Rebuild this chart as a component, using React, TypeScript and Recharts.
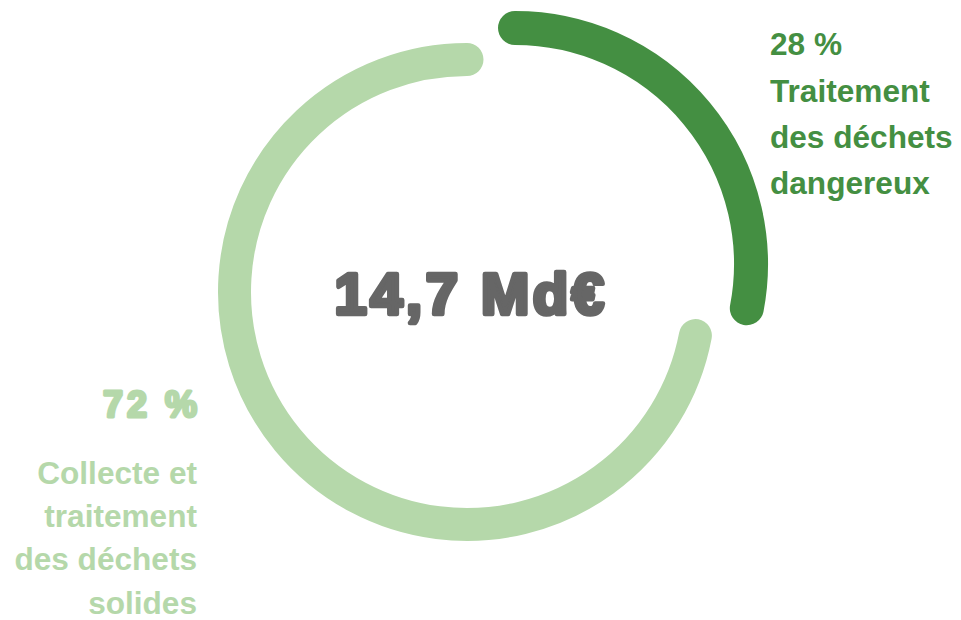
import { PieChart, Pie, Cell } from "recharts";

const categories = [
  "Traitement des déchets dangereux",
  "Collecte et traitement des déchets solides",
];
const shares = [28, 72];
const labelLines = [
  ["Traitement", "des déchets", "dangereux"],
  ["Collecte et", "traitement", "des déchets", "solides"],
];
const totalLabel = "14,7 Md€";

const DARK = "#448f42";
const LIGHT = "#b5d8aa";
const GREY = "#666666";

const data = categories.map((name, i) => ({ name, value: shares[i] }));

// draws the sector as a stroked arc with round caps
const ArcShape = (props: any) => {
  const { cx, cy, innerRadius, outerRadius, startAngle, endAngle, fill } = props;
  if (!fill || fill === "none") return <g />;
  const r = (innerRadius + outerRadius) / 2;
  const rad = Math.PI / 180;
  const x1 = cx + r * Math.cos(-startAngle * rad);
  const y1 = cy + r * Math.sin(-startAngle * rad);
  const x2 = cx + r * Math.cos(-endAngle * rad);
  const y2 = cy + r * Math.sin(-endAngle * rad);
  const large = Math.abs(endAngle - startAngle) > 180 ? 1 : 0;
  const sweep = startAngle > endAngle ? 1 : 0;
  return (
    <path
      d={`M${x1},${y1} A${r},${r} 0 ${large} ${sweep} ${x2},${y2}`}
      stroke={fill}
      strokeWidth={outerRadius - innerRadius}
      strokeLinecap="round"
      fill="none"
    />
  );
};

const font = "'Liberation Sans', Arial, sans-serif";

export default function App() {
  return (
    <div style={{ position: "absolute", left: 0, top: 0, width: 961, height: 620, background: "#fff" }}>
      <PieChart width={961} height={620} margin={{ top: 0, right: 0, bottom: 0, left: 0 }}>
        <Pie
          data={data}
          dataKey="value"
          cx={515}
          cy={264}
          innerRadius={219}
          outerRadius={253}
          startAngle={90}
          endAngle={-270}
          stroke="none"
          isAnimationActive={false}
          shape={ArcShape}
          activeShape={ArcShape}
        >
          <Cell fill={DARK} />
          <Cell fill="none" />
        </Pie>
        <Pie
          data={data}
          dataKey="value"
          cx={467}
          cy={292}
          innerRadius={216}
          outerRadius={249}
          startAngle={90}
          endAngle={-270}
          stroke="none"
          isAnimationActive={false}
          shape={ArcShape}
          activeShape={ArcShape}
        >
          <Cell fill="none" />
          <Cell fill={LIGHT} />
        </Pie>
      </PieChart>
      <svg width={961} height={620} style={{ position: "absolute", left: 0, top: 0, pointerEvents: "none" }}>
        <text
          x={471}
          y={314}
          textAnchor="middle"
          fontFamily={font}
          fontWeight={700}
          fontSize={58}
          fill={GREY}
          stroke={GREY}
          strokeWidth={4.5}
          strokeLinejoin="round"
          letterSpacing={3.5}
        >
          {totalLabel}
        </text>
        <g fontFamily={font} fontWeight={700} fontSize={31.6} fill={DARK}>
          <text x={770} y={55}>{`${shares[0]} %`}</text>
          {labelLines[0].map((t, i) => (
            <text key={t} x={770} y={101.5 + i * 46}>
              {t}
            </text>
          ))}
        </g>
        <g fontFamily={font} fontWeight={700} fill={LIGHT} textAnchor="end">
          <text x={201} y={417} fontSize={36} stroke={LIGHT} strokeWidth={3} strokeLinejoin="round" letterSpacing={4}>
            {`${shares[1]} %`}
          </text>
          {labelLines[1].map((t, i) => (
            <text key={t} x={197} y={484 + i * 43.2} fontSize={31.6}>
              {t}
            </text>
          ))}
        </g>
      </svg>
    </div>
  );
}
